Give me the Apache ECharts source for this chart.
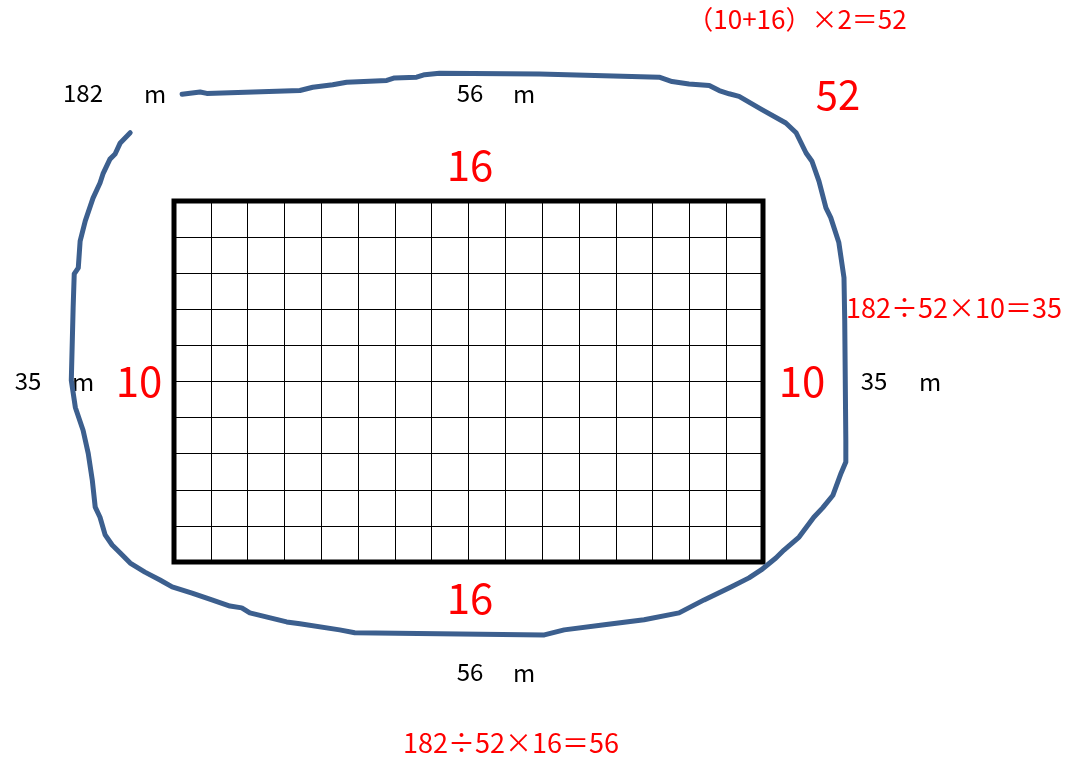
<!DOCTYPE html>
<html><head><meta charset="utf-8">
<script src="https://cdn.jsdelivr.net/npm/echarts@6/dist/echarts.min.js"></script>
<style>html,body{margin:0;padding:0;background:#fff}#c{width:1065px;height:758px}</style>
</head><body><div id="c"></div>
<script>
// grid of the rectangle (cells)
const cols = 16;
const rows = 10;
// freehand loop around the rectangle, in cell units (x: columns, y: rows from bottom)
const loopX = [0.22,0.71,0.89,3.42,3.77,4.31,4.69,5.78,5.99,6.59,6.81,7.21,9.93,13.18,13.53,13.99,14.54,14.81,15.08,15.35,15.97,16.62,16.90,17.17,17.33,17.52,17.71,17.84,18.06,18.20,18.22,18.25,18.25,18.12,17.90,17.62,17.38,16.98,16.57,16.35,15.95,15.62,15.13,14.40,13.72,12.77,11.69,10.60,10.06,4.91,4.50,3.42,3.06,2.06,1.84,1.52,1.03,0.49,-0.05,-0.38,-0.79,-1.19,-1.46,-1.68,-1.87,-2.01,-2.14,-2.22,-2.33,-2.47,-2.68,-2.79,-2.74,-2.71,-2.60,-2.55,-2.41,-2.20,-2.01,-1.93,-1.74,-1.60,-1.46,-1.19];
const loopY = [12.96,13.02,12.98,13.06,13.15,13.22,13.29,13.34,13.41,13.43,13.50,13.54,13.52,13.43,13.31,13.24,13.20,13.06,12.97,12.90,12.53,12.16,11.89,11.33,11.10,10.55,9.81,9.54,8.85,7.88,6.69,3.37,2.77,2.46,1.85,1.50,1.24,0.69,0.33,0.11,-0.22,-0.44,-0.69,-1.05,-1.41,-1.60,-1.74,-1.88,-2.02,-1.96,-1.88,-1.71,-1.66,-1.41,-1.27,-1.22,-1.05,-0.86,-0.69,-0.50,-0.28,-0.03,0.25,0.47,0.75,1.24,1.52,2.27,3.01,3.65,4.28,5.03,7.04,7.98,8.15,8.89,9.45,10.08,10.50,10.75,11.16,11.30,11.61,11.89];
// texts
const sideLong = '16';
const sideShort = '10';
const perimeterFormula = '（10+16）×2＝52';
const perimeter = '52';
const totalLen = '182';
const longLen = '56';
const shortLen = '35';
const unit = 'm';
const formulaShort = '182÷52×10＝35';
const formulaLong = '182÷52×16＝56';

const W = 1065, H = 758;
const R = {left: 174, top: 201, width: 589, height: 361};
const cw = R.width / cols, ch = R.height / rows;
const xMin = -R.left / cw, xMax = (W - R.left) / cw;
const yMin = -(H - R.top - R.height) / ch, yMax = rows + R.top / ch;

const FONT = '"Noto Sans CJK JP", "Noto Sans", sans-serif';
function txt(s, x, y, size, color) {
  return {type: 'text', x: x, y: y, silent: true,
    style: {text: s, x: 0, y: 0, align: 'center', verticalAlign: 'middle',
      fill: color, font: size + 'px ' + FONT}};
}
const RED = '#ff0000', BLK = '#000000';

const chart = echarts.init(document.getElementById('c'), null, {renderer: 'canvas'});
chart.setOption({
  animation: false,
  backgroundColor: '#ffffff',
  grid: [
    {left: 0, top: 0, width: W, height: H, show: false},
    {left: R.left, top: R.top, width: R.width, height: R.height, show: true,
     borderColor: '#000', borderWidth: 5, backgroundColor: 'transparent'}
  ],
  xAxis: [
    {type: 'value', gridIndex: 0, min: xMin, max: xMax, show: false},
    {type: 'value', gridIndex: 1, min: 0, max: cols, interval: 1,
     axisLine: {show: false}, axisTick: {show: false}, axisLabel: {show: false},
     splitLine: {show: true, lineStyle: {color: '#000', width: 1}}}
  ],
  yAxis: [
    {type: 'value', gridIndex: 0, min: yMin, max: yMax, show: false},
    {type: 'value', gridIndex: 1, min: 0, max: rows, interval: 1,
     axisLine: {show: false}, axisTick: {show: false}, axisLabel: {show: false},
     splitLine: {show: true, lineStyle: {color: '#000', width: 1}}}
  ],
  series: [{
    type: 'line', xAxisIndex: 0, yAxisIndex: 0, silent: true,
    showSymbol: false, symbol: 'none', smooth: false, z: 5,
    lineStyle: {color: '#3c5f8e', width: 5, cap: 'round', join: 'round'},
    data: loopX.map((x, i) => [x, loopY[i]])
  }],
  graphic: [
    txt(perimeterFormula, 797, 19, 26, RED),
    txt(perimeter, 838, 95, 40, RED),
    txt(totalLen, 83, 93, 24, BLK),
    txt(unit, 155, 94, 24, BLK),
    txt(longLen, 470, 93, 24, BLK),
    txt(unit, 524, 94, 24, BLK),
    txt(sideLong, 470, 165, 42, RED),
    txt(sideShort, 139, 381, 42, RED),
    txt(sideShort, 802, 381, 42, RED),
    txt(shortLen, 28, 381, 24, BLK),
    txt(unit, 83, 382, 24, BLK),
    txt(shortLen, 874, 381, 24, BLK),
    txt(unit, 930, 382, 24, BLK),
    txt(formulaShort, 954, 308, 27, RED),
    txt(sideLong, 470, 598, 42, RED),
    txt(longLen, 470, 672, 24, BLK),
    txt(unit, 524, 673, 24, BLK),
    txt(formulaLong, 511, 743, 27, RED)
  ]
});
</script>
</body></html>
